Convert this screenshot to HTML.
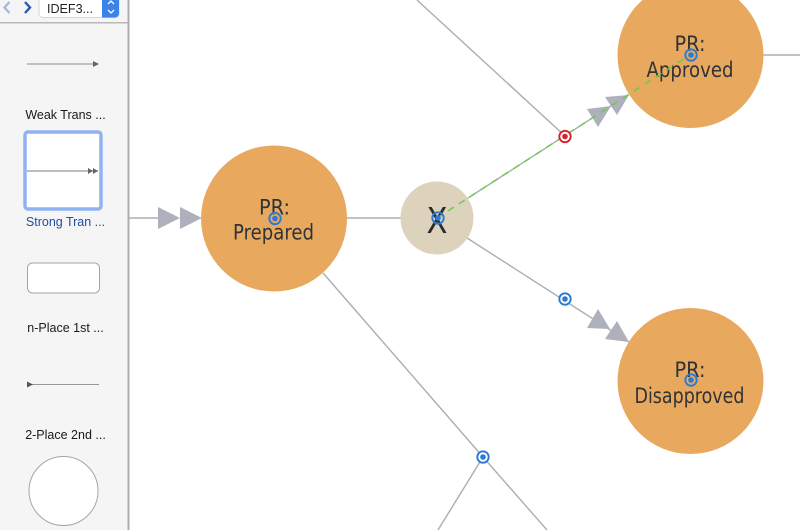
<!DOCTYPE html>
<html>
<head>
<meta charset="utf-8">
<style>
html,body{margin:0;padding:0;background:#fff;width:800px;height:530px;overflow:hidden}
svg{display:block}
.side{font-family:"Liberation Sans",sans-serif;font-size:12.5px;fill:#1a1a1a;text-anchor:middle}
.lab{font-family:"DejaVu Sans",sans-serif;font-size:21px;fill:#2f3236}
</style>
</head>
<body>
<svg width="800" height="530" viewBox="0 0 800 530" xmlns="http://www.w3.org/2000/svg">
<rect width="800" height="530" fill="#fff"/>
<!-- connectors -->
<g stroke="#aaadb8" stroke-width="1.4" fill="none">
<line x1="129" y1="218" x2="160" y2="218"/>
<line x1="345" y1="218" x2="402" y2="218"/>
<line x1="417" y1="0" x2="565" y2="136"/>
<line x1="437" y1="218" x2="628" y2="95"/>
<line x1="467" y1="238" x2="629" y2="342"/>
<line x1="323" y1="273" x2="483" y2="457"/>
<line x1="483" y1="457" x2="547" y2="530"/>
<line x1="483" y1="457" x2="438" y2="530"/>
<line x1="763" y1="55" x2="800" y2="55"/>
</g>
<!-- arrowheads -->
<g fill="#aeb0bb">
<polygon points="158,207 158,229 180,218"/>
<polygon points="180,207 180,229 202,218"/>
<polygon points="587,109 598,127 611,106"/>
<polygon points="605,97 617,115 629,95"/>
<polygon points="598,309 587,328 610,329"/>
<polygon points="617,321 605,339 629,342"/>
</g>
<!-- nodes -->
<circle cx="274" cy="218.500" r="73" fill="#e8a95f"/>
<circle cx="690.500" cy="55" r="73" fill="#e8a95f"/>
<circle cx="690.500" cy="381" r="73" fill="#e8a95f"/>
<circle cx="437" cy="218" r="36.500" fill="#ddd2bc"/>
<!-- labels -->
<text class="lab" x="274.500" y="214.500" text-anchor="middle" textLength="31" lengthAdjust="spacingAndGlyphs">PR:</text>
<text class="lab" x="273.500" y="239.500" text-anchor="middle" textLength="81" lengthAdjust="spacingAndGlyphs">Prepared</text>
<text class="lab" x="690" y="51" text-anchor="middle" textLength="31" lengthAdjust="spacingAndGlyphs">PR:</text>
<text class="lab" x="690" y="77" text-anchor="middle" textLength="87" lengthAdjust="spacingAndGlyphs">Approved</text>
<text class="lab" x="690" y="377" text-anchor="middle" textLength="31" lengthAdjust="spacingAndGlyphs">PR:</text>
<text class="lab" x="689.500" y="403" text-anchor="middle" textLength="110" lengthAdjust="spacingAndGlyphs">Disapproved</text>
<text x="437" y="233" text-anchor="middle" font-family="'DejaVu Sans',sans-serif" font-size="36" fill="#2b2b2b" textLength="21" lengthAdjust="spacingAndGlyphs">X</text>
<!-- green selection line -->
<line x1="437" y1="218" x2="690" y2="55" stroke="#6ccb4c" stroke-width="1.5" stroke-dasharray="7 6"/>
<!-- handles -->
<g fill="none" stroke="#2a7ad6" stroke-width="1.9">
<circle cx="275" cy="218.500" r="5.700"/>
<circle cx="691" cy="55" r="5.700"/>
<circle cx="691" cy="380" r="5.700"/>
<circle cx="438" cy="218" r="5.700"/>
</g>
<g fill="#fff" stroke="#2a7ad6" stroke-width="1.9">
<circle cx="565" cy="299" r="5.700"/>
<circle cx="483" cy="457" r="5.700"/>
</g>
<circle cx="565" cy="136.500" r="5.700" fill="#fff" stroke="#d8232f" stroke-width="1.9"/>
<g fill="#2a7ad6">
<circle cx="275" cy="218.500" r="2.800"/>
<circle cx="691" cy="55" r="2.800"/>
<circle cx="691" cy="380" r="2.800"/>
<circle cx="438" cy="218" r="2.800"/>
<circle cx="565" cy="299" r="2.800"/>
<circle cx="483" cy="457" r="2.800"/>
</g>
<circle cx="565" cy="136.500" r="2.800" fill="#d8232f"/>
<!-- sidebar -->
<rect x="0" y="0" width="128" height="530" fill="#f5f5f5"/>
<rect x="127.500" y="0" width="2" height="530" fill="#aeaeae"/>
<rect x="0" y="22" width="128" height="1.500" fill="#b8b8b8"/>
<path d="M9.500,2 L4.500,7.500 L9.500,13" fill="none" stroke="#a9bad6" stroke-width="2.400"/>
<path d="M25,2 L30,7.500 L25,13" fill="none" stroke="#2a5aa8" stroke-width="2.400"/>
<rect x="39" y="-4" width="80" height="21.500" rx="4" fill="#fff" stroke="#d5d5d5"/>
<path d="M102,-4 h13 a4,4 0 0 1 4,4 v13.500 a4,4 0 0 1 -4,4 h-13 z" fill="#3b82ea"/>
<path d="M108,4 L111,1 L114,4 M108,10 L111,13 L114,10" fill="none" stroke="#fff" stroke-width="1.300"/>
<text x="47" y="13" font-family="'Liberation Sans',sans-serif" font-size="13" fill="#222" textLength="46" lengthAdjust="spacingAndGlyphs">IDEF3...</text>
<!-- weak -->
<line x1="27" y1="64" x2="94" y2="64" stroke="#8c8c8c" stroke-width="1"/>
<polygon points="93,61 93,67 99,64" fill="#666"/>
<text class="side" x="65.500" y="119">Weak Trans ...</text>
<!-- strong -->
<rect x="25" y="132" width="76" height="77" rx="3" fill="#fff" stroke="#8fb3f2" stroke-width="3.500"/>
<line x1="27" y1="171" x2="98" y2="171" stroke="#a8a8a8" stroke-width="1.500"/>
<polygon points="88,168 88,174 93,171" fill="#666"/>
<polygon points="93,168 93,174 98,171" fill="#666"/>
<text class="side" x="65.500" y="226" style="fill:#1f4ea1">Strong Tran ...</text>
<!-- n-place -->
<rect x="27.500" y="263" width="72" height="30" rx="5" fill="#fff" stroke="#a5a5a5" stroke-width="1"/>
<text class="side" x="65.500" y="332">n-Place 1st ...</text>
<!-- 2-place -->
<line x1="30" y1="384.500" x2="99" y2="384.500" stroke="#999" stroke-width="1"/>
<polygon points="27,381.500 27,387.500 33,384.500" fill="#555"/>
<text class="side" x="65.500" y="439">2-Place 2nd ...</text>
<!-- circle -->
<circle cx="63.500" cy="491" r="34.500" fill="#fff" stroke="#a5a5a5" stroke-width="1"/>
</svg>
</body>
</html>
